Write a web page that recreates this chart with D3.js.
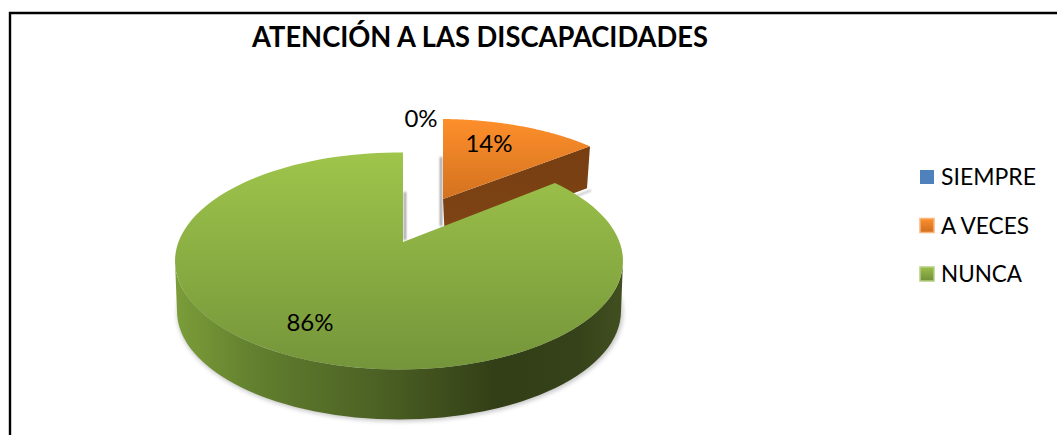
<!DOCTYPE html>
<html><head><meta charset="utf-8">
<script src="https://cdn.jsdelivr.net/npm/d3@7/dist/d3.min.js"></script>
<style>html,body{margin:0;padding:0;background:#fff}svg{display:block}text{font-family:Lato,"Open Sans",sans-serif;fill:#000}</style>
</head><body><svg id="c" width="1057" height="435"></svg>
<script>
const categories = ["SIEMPRE", "A VECES", "NUNCA"];
const seriesValues = [0, 14, 86];
const percentLabels = ["0%", "14%", "86%"];
const titleText = "ATENCIÓN A LAS DISCAPACIDADES";

const svg = d3.select("#c");
const defs = svg.append("defs");
function lin(id, stops, h) {
  const g = defs.append("linearGradient").attr("id", id);
  if (h) g.attr("gradientUnits","userSpaceOnUse").attr("x1",h[0]).attr("x2",h[1]).attr("y1",0).attr("y2",0);
  else g.attr("x1",0).attr("x2",0).attr("y1",0).attr("y2",1);
  stops.forEach(s => g.append("stop").attr("offset", s[0]).attr("stop-color", s[1]));
}
lin("gTop", [[0,"#9fc54b"],[1,"#74953a"]]);
lin("gSide", [[0,"#7b9c39"],[.18,"#617f2e"],[.45,"#4c6124"],[.72,"#323e16"],[.9,"#36431a"],[1,"#414f20"]], [177,623]);
lin("oTop", [[0,"#fd8f2b"],[1,"#d4721f"]]);
lin("oSide", [[0,"#773e12"],[.75,"#7d4314"],[1,"#8d4c18"]]);
lin("lO", [[0,"#fb8f2e"],[1,"#d06e1e"]]);
lin("lG", [[0,"#9bbe4c"],[1,"#70903a"]]);
defs.append("filter").attr("id","blur").attr("x","-10%").attr("y","-10%").attr("width","120%").attr("height","120%")
  .append("feGaussianBlur").attr("stdDeviation",2);
defs.append("filter").attr("id","blur1").attr("filterUnits","userSpaceOnUse").attr("x",0).attr("y",0).attr("width",1057).attr("height",435)
  .append("feGaussianBlur").attr("stdDeviation",0.9);
defs.append("clipPath").attr("id","lower").append("rect").attr("x",0).attr("y",290).attr("width",1057).attr("height",145);

// frame
svg.append("path").attr("d","M10 435V13H1057").attr("fill","none").attr("stroke","#000").attr("stroke-width",2.4);

// pie layout from the data, clockwise from the top
const slices = d3.pie().sort(null)(seriesValues);

// each exploded slice: apex + ellipse, edge found by casting a ray from the apex
const geo = {
  1: {ax:443, ay:199, cx:439, cy:216, rx:217, ry:97, k:94, depth:42},
  2: {ax:403, ay:242, cx:399, cy:261, rx:224, ry:108.5, k:105, depth:50}
};
function edge(g, a) {
  const dx = Math.sin(a)*g.rx, dy = -Math.cos(a)*g.k;
  const ox = (g.ax-g.cx)/g.rx, oy = (g.ay-g.cy)/g.ry, ux = dx/g.rx, uy = dy/g.ry;
  const A = ux*ux+uy*uy, B = 2*(ox*ux+oy*uy), C = ox*ox+oy*oy-1;
  const t = (-B+Math.sqrt(B*B-4*A*C))/(2*A);
  return [g.ax+dx*t, g.ay+dy*t];
}
function face(g, s) {
  const n = 120, pts = [[g.ax,g.ay]];
  d3.range(n+1).forEach(i => pts.push(edge(g, s.startAngle+(s.endAngle-s.startAngle)*i/n)));
  return d3.line()(pts)+"Z";
}

// ground shadow (lower part only, so the notch stays white)
const G = geo[2], O = geo[1];
svg.append("g").attr("clip-path","url(#lower)")
  .append("ellipse").attr("cx",G.cx+1).attr("cy",G.cy+G.depth+2).attr("rx",G.rx-1).attr("ry",G.ry).attr("fill","#9a9a9a").attr("opacity",.55).attr("filter","url(#blur)");

// orange slice: shadow, cut wall, top
const tip = edge(O, slices[1].endAngle);
svg.append("path").attr("d",`M${O.ax-2} ${O.ay-42}V${O.ay+27}`).attr("stroke","#8d8d8d").attr("stroke-width",2).attr("filter","url(#blur1)");
svg.append("path").attr("d",`M${tip[0]+1} ${tip[1]+44}L${tip[0]-30} ${tip[1]+56}`).attr("stroke","#aaa").attr("stroke-width",1.5).attr("filter","url(#blur1)");
svg.append("path").attr("d",d3.line()([[O.ax,O.ay],tip,[tip[0]-3,tip[1]+O.depth],[O.ax+2,O.ay+O.depth]])+"Z").attr("fill","url(#oSide)");
svg.append("path").attr("d",face(O,slices[1])).attr("fill","url(#oTop)");

// green slice: inner shadow, side wall, top
svg.append("path").attr("d",`M${G.ax+2} ${G.ay-50}V${G.ay-2}`).attr("stroke","#8d8d8d").attr("stroke-width",2).attr("filter","url(#blur1)");
const lx = G.cx-G.rx, rxp = G.cx+G.rx;
svg.append("path").attr("d",
  `M${lx} ${G.cy}A${G.rx} ${G.ry} 0 0 0 ${rxp} ${G.cy}`+
  `L${rxp-2} ${G.cy+G.depth}A${G.rx-2} ${G.ry} 0 0 1 ${lx+2} ${G.cy+G.depth}Z`).attr("fill","url(#gSide)");
svg.append("path").attr("d",face(G,slices[2])).attr("fill","url(#gTop)");

// title
svg.append("text").attr("x",252).attr("y",47).attr("font-size",28).attr("font-weight",700)
  .attr("textLength",456).attr("lengthAdjust","spacingAndGlyphs").text(titleText);

// data labels
const labelPos = [[421,127],[489,152],[310,331]];
svg.selectAll("text.lab").data(percentLabels).join("text").attr("class","lab")
  .attr("x",(d,i)=>labelPos[i][0]).attr("y",(d,i)=>labelPos[i][1]).attr("text-anchor","middle").attr("font-size",24).text(d=>d);

// legend
const ly = d3.scalePoint().domain(categories).range([177,274]);
const fills = ["#4f81bd","url(#lO)","url(#lG)"], strokes = ["none","#fbb47a","#b5cf82"];
const leg = svg.selectAll("g.leg").data(categories).join("g").attr("class","leg");
leg.append("rect").attr("x",920).attr("y",d=>ly(d)-7).attr("width",14).attr("height",14)
  .attr("fill",(d,i)=>fills[i]).attr("stroke",(d,i)=>strokes[i]).attr("stroke-width",1.5);
leg.append("text").attr("x",941).attr("y",d=>ly(d)+8).attr("font-size",23).attr("textLength",(d,i)=>[95,88,81][i]).attr("lengthAdjust","spacingAndGlyphs").text(d=>d);
</script></body></html>
